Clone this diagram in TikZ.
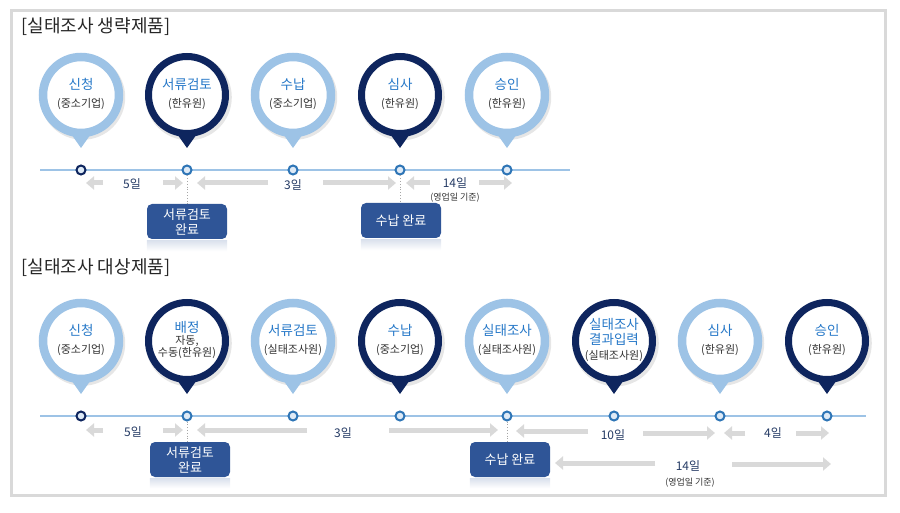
\documentclass[tikz,border=0pt]{standalone}
\usepackage{fontspec}
\setmainfont{Noto Sans CJK KR}
\usetikzlibrary{positioning,arrows.meta,shadows}

\definecolor{lightring}{RGB}{157,195,230}
\definecolor{darkring}{RGB}{14,37,94}
\definecolor{ttlblue}{RGB}{38,120,200}
\definecolor{subgray}{RGB}{50,50,50}
\definecolor{dotblue}{RGB}{46,117,182}
\definecolor{dotfill}{RGB}{222,234,246}
\definecolor{spangray}{RGB}{217,217,217}
\definecolor{daynavy}{RGB}{36,58,100}
\definecolor{boxblue}{RGB}{47,85,151}
\definecolor{framegray}{RGB}{217,217,217}

\newcommand{\pinttl}[1]{{\fontsize{13.5}{15}\selectfont\color{ttlblue}#1}}

\tikzset{
  ring/.style={circle, fill=white, line width=8.5pt, minimum size=76pt, inner sep=0pt,
    drop shadow={shadow xshift=1.5pt, shadow yshift=-2pt, shadow scale=1.12, opacity=.2}},
  lightpin/.style={ring, draw=lightring},
  darkpin/.style={ring, draw=darkring, line width=7pt, minimum size=77pt},
  pintext/.style={align=center, font=\fontsize{11}{13}\selectfont, text=subgray, yshift=1pt},
  tick/.style={circle, draw=dotblue, fill=dotfill, line width=2pt, minimum size=9pt, inner sep=0pt},
  timeline/.style={draw=lightring, line width=2pt},
  span/.style={draw=spangray, line width=5pt, -{Triangle[length=8pt,width=13pt]}},
  daylbl/.style={font=\fontsize{12}{14}\selectfont, text=daynavy},
  note/.style={font=\fontsize{9}{11}\selectfont, text=subgray},
  donebox/.style={rounded corners=5pt, fill=boxblue, text=white, minimum width=80pt,
    minimum height=35pt, align=center, font=\fontsize{13}{15}\selectfont, inner sep=0pt},
  mirror/.style={top color=boxblue!18, bottom color=white},
  dotline/.style={draw=gray!70, dotted, line width=0.8pt},
  heading/.style={anchor=west, font=\fontsize{18}{21}\selectfont, text=black!85},
}

\begin{document}
\begin{tikzpicture}[x=1pt, y=-1pt]
\useasboundingbox (0,0) rectangle (900,513);
\draw[framegray, line width=3pt] (11,11) rectangle (885,495);

% omitted survey
\node[heading] (h1) at (18,27) {[실태조사 생략제품]};

\node[lightpin] (p1) at (81,95) {};
\fill[lightring] (p1) ++(-12,36) -- ++(24,0) -- ++(-12,17) -- cycle;
\node[pintext] (p1t) at (p1) {\pinttl{신청}\\[5pt](중소기업)};
\node[darkpin] (p2) at (187,95) {};
\fill[darkring] (p2) ++(-12,36) -- ++(24,0) -- ++(-12,17) -- cycle;
\node[pintext] (p2t) at (p2) {\pinttl{서류검토}\\[5pt](한유원)};
\node[lightpin] (p3) at (293,95) {};
\fill[lightring] (p3) ++(-12,36) -- ++(24,0) -- ++(-12,17) -- cycle;
\node[pintext] (p3t) at (p3) {\pinttl{수납}\\[5pt](중소기업)};
\node[darkpin] (p4) at (400,95) {};
\fill[darkring] (p4) ++(-12,36) -- ++(24,0) -- ++(-12,17) -- cycle;
\node[pintext] (p4t) at (p4) {\pinttl{심사}\\[5pt](한유원)};
\node[lightpin] (p5) at (507,95) {};
\fill[lightring] (p5) ++(-12,36) -- ++(24,0) -- ++(-12,17) -- cycle;
\node[pintext] (p5t) at (p5) {\pinttl{승인}\\[5pt](한유원)};

\coordinate (ls1) at (40,170);
\coordinate (le1) at (570,170);
\draw[timeline] (ls1) -- (le1);
\node[tick, draw=darkring] (d1) at (81,170) {};
\node[tick] (d2) at (187,170) {};
\node[tick] (d3) at (293,170) {};
\node[tick] (d4) at (400,170) {};
\node[tick] (d5) at (507,170) {};

\node[daylbl] (w1) at (132,184) {5일};
\draw[span] (103,183) -- (86,183);
\draw[span] (163,183) -- (183,183);
\node[daylbl] (w2) at (293,185) {3일};
\draw[span] (268,183) -- (197,183);
\draw[span] (323,183) -- (396,183);
\node[daylbl] (w3) at (455,183) {14일};
\node[note] (n1) at (455,198) {(영업일 기준)};
\draw[span] (430,183) -- (406,183);
\draw[span] (479,183) -- (512,183);

\node[donebox] (bx1) at (187,221.5) {서류검토\\완료};
\shade[mirror] ([yshift=-1pt]bx1.south west) rectangle ([yshift=-12pt]bx1.south east);
\node[donebox] (bx2) at (401,220.5) {수납 완료};
\shade[mirror] ([yshift=-1pt]bx2.south west) rectangle ([yshift=-12pt]bx2.south east);
\draw[dotline] (d2.south) -- (bx1.north);
\draw[dotline] (d4.south) -- (d4.south |- bx2.north);

% survey target
\node[heading] (h2) at (18,268) {[실태조사 대상제품]};

\node[lightpin] (q1) at (81,341) {};
\fill[lightring] (q1) ++(-12,36) -- ++(24,0) -- ++(-12,17) -- cycle;
\node[pintext] (q1t) at (q1) {\pinttl{신청}\\[5pt](중소기업)};
\node[darkpin] (q2) at (187,341) {};
\fill[darkring] (q2) ++(-12,36) -- ++(24,0) -- ++(-12,17) -- cycle;
\node[pintext] (q2t) at (q2) {\pinttl{배정}\\[-1pt]자동,\\[-1pt]수동(한유원)};
\node[lightpin] (q3) at (293,341) {};
\fill[lightring] (q3) ++(-12,36) -- ++(24,0) -- ++(-12,17) -- cycle;
\node[pintext] (q3t) at (q3) {\pinttl{서류검토}\\[5pt](실태조사원)};
\node[darkpin] (q4) at (400,341) {};
\fill[darkring] (q4) ++(-12,36) -- ++(24,0) -- ++(-12,17) -- cycle;
\node[pintext] (q4t) at (q4) {\pinttl{수납}\\[5pt](중소기업)};
\node[lightpin] (q5) at (507,341) {};
\fill[lightring] (q5) ++(-12,36) -- ++(24,0) -- ++(-12,17) -- cycle;
\node[pintext] (q5t) at (q5) {\pinttl{실태조사}\\[5pt](실태조사원)};
\node[darkpin] (q6) at (614,341) {};
\fill[darkring] (q6) ++(-12,36) -- ++(24,0) -- ++(-12,17) -- cycle;
\node[pintext] (q6t) at (q6) {\pinttl{실태조사}\\[1.5pt]\pinttl{결과입력}\\[2pt](실태조사원)};
\node[lightpin] (q7) at (720,341) {};
\fill[lightring] (q7) ++(-12,36) -- ++(24,0) -- ++(-12,17) -- cycle;
\node[pintext] (q7t) at (q7) {\pinttl{심사}\\[5pt](한유원)};
\node[darkpin] (q8) at (827,341) {};
\fill[darkring] (q8) ++(-12,36) -- ++(24,0) -- ++(-12,17) -- cycle;
\node[pintext] (q8t) at (q8) {\pinttl{승인}\\[5pt](한유원)};

\coordinate (ls2) at (40,416);
\coordinate (le2) at (866,416);
\draw[timeline] (ls2) -- (le2);
\node[tick, draw=darkring] (e1) at (81,416) {};
\node[tick] (e2) at (187,416) {};
\node[tick] (e3) at (293,416) {};
\node[tick] (e4) at (400,416) {};
\node[tick] (e5) at (507,416) {};
\node[tick] (e6) at (614,416) {};
\node[tick] (e7) at (720,416) {};
\node[tick] (e8) at (827,416) {};

\node[daylbl] (v1) at (133,432) {5일};
\draw[span] (103,430) -- (86,430);
\draw[span] (163,430) -- (183,430);
\node[daylbl] (v2) at (343,433) {3일};
\draw[span] (307,430) -- (197,430);
\draw[span] (389,430) -- (498,430);
\node[daylbl] (v3) at (613,435) {10일};
\draw[span] (588,431) -- (516,431);
\draw[span] (643,433) -- (715,433);
\node[daylbl] (v4) at (773,433) {4일};
\draw[span] (745,433) -- (724,433);
\draw[span] (796,433) -- (829,433);
\node[daylbl] (v5) at (688,466) {14일};
\node[note] (n2) at (690,483) {(영업일 기준)};
\draw[span] (655,463) -- (555,463);
\draw[span] (732,464) -- (831,464);

\node[donebox] (bx3) at (190,459.5) {서류검토\\완료};
\shade[mirror] ([yshift=-1pt]bx3.south west) rectangle ([yshift=-11pt]bx3.south east);
\node[donebox] (bx4) at (510,459.5) {수납 완료};
\shade[mirror] ([yshift=-1pt]bx4.south west) rectangle ([yshift=-11pt]bx4.south east);
\draw[dotline] (e2.south) -- (e2.south |- bx3.north);
\draw[dotline] (e5.south) -- (e5.south |- bx4.north);
\end{tikzpicture}
\end{document}
